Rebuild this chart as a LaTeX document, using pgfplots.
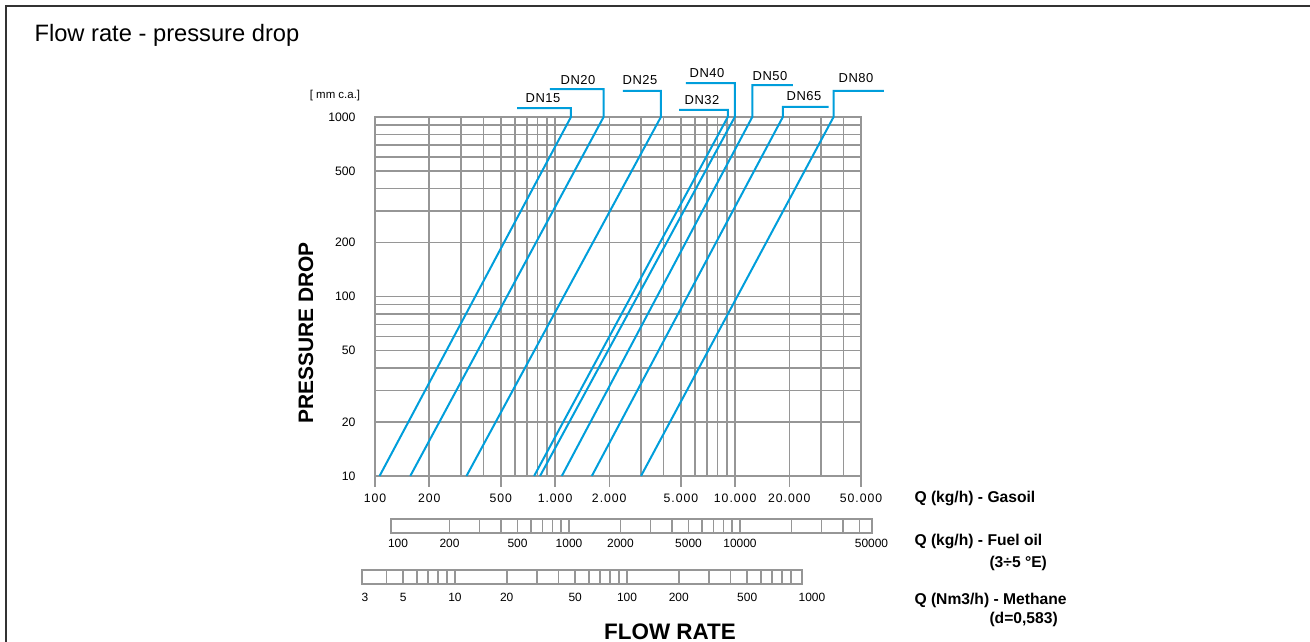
\documentclass[border=0pt]{standalone}
\usepackage{pgfplots}
\pgfplotsset{compat=1.18}
\usepackage{fontspec}
\setmainfont{Liberation Sans}
\definecolor{lineblue}{RGB}{0,158,219}
\definecolor{gridgray}{RGB}{150,150,150}
\begin{document}
\begin{tikzpicture}
\path[use as bounding box] (0,0) rectangle (1310bp,-642bp);
\draw[line width=1.5bp, black!80] (6bp,-642bp) -- (6bp,-6bp) -- (1310bp,-6bp);
\node[anchor=west, font=\fontsize{23.8}{28}\selectfont] at (31bp,-35bp) {Flow rate - pressure drop};

\begin{axis}[
  at={(375bp,-476bp)}, anchor=south west,
  width=486bp, height=359bp, scale only axis,
  xmode=log, ymode=log, xmin=100, xmax=50000, ymin=10, ymax=1000,
  xtick={100,200,500,1000,2000,5000,10000,20000,50000},
  xticklabels={100,200,500,1.000,2.000,5.000,10.000,20.000,50.000},
  ytick={10,20,50,100,200,500,1000},
  yticklabels={10,20,50,100,200,500,1000},
  minor xtick={300,400,600,700,800,900,3000,4000,6000,7000,8000,9000,30000,40000},
  minor ytick={30,40,60,70,80,90,300,400,600,700,800,900},
  grid=both,
  major grid style={gridgray, line width=1.5bp},
  minor grid style={gridgray, line width=1.5bp},
  axis line style={gridgray, line width=1.5bp},
  xtick style={gridgray, line width=1.5bp},
  ytick style={draw=none},
  xtick pos=lower, ytick pos=left,
  minor tick length=0pt,
  major tick length=11bp,
  tick align=outside,
  /pgf/number format/assume math mode=true,
  tick label style={font=\fontsize{12.3}{14}\selectfont},
  xticklabel style={yshift=-3bp, font=\fontsize{12.3}{14}\selectfont\addfontfeature{LetterSpace=8}},
  yticklabel style={xshift=-5bp},
  clip=false,
]
\addplot[lineblue, line width=2bp] coordinates {(106,10) (1225,1000) (1225,1122) (615,1122)};
\addplot[lineblue, line width=2bp] coordinates {(157,10) (1860,1000) (1860,1432) (937,1432)};
\addplot[lineblue, line width=2bp] coordinates {(322,10) (3870,1000) (3870,1396) (2376,1396)};
\addplot[lineblue, line width=2bp] coordinates {(765,10) (9100,1000) (9100,1094) (4880,1094)};
\addplot[lineblue, line width=2bp] coordinates {(825,10) (9950,1000) (9950,1546) (5325,1546)};
\addplot[lineblue, line width=2bp] coordinates {(1090,10) (12450,1000) (12450,1507) (20940,1507)};
\addplot[lineblue, line width=2bp] coordinates {(1600,10) (18400,1000) (18400,1137) (33000,1137)};
\addplot[lineblue, line width=2bp] coordinates {(3000,10) (35200,1000) (35200,1396) (67000,1396)};
\end{axis}

% Fuel oil scale
\begin{axis}[
  at={(391bp,-533bp)}, anchor=south west,
  width=481bp, height=14bp, scale only axis,
  xmode=log, xmin=91, xmax=59160, ymin=0, ymax=1,
  ytick=\empty,
  xtick={100,200,500,1000,2000,5000,10000},
  xticklabels={100,200,500,1000,2000,5000,10000},
  extra x ticks={50000}, extra x tick labels={50000},
  extra x tick style={xticklabel style={xshift=12bp}},
  minor xtick={200,300,400,500,600,700,800,900,1000,2000,3000,4000,5000,6000,7000,8000,9000,10000,20000,30000,40000,50000},
  xminorgrids=true, xmajorgrids=false,
  minor grid style={gridgray, line width=1.8bp},
  axis line style={gridgray, line width=1.8bp},
  major tick length=0pt, minor tick length=0pt,
  /pgf/number format/assume math mode=true,
  tick label style={font=\fontsize{12}{14}\selectfont},
  xticklabel style={yshift=-3bp},
]
\end{axis}

% Methane scale
\begin{axis}[
  at={(361.7bp,-584bp)}, anchor=south west,
  width=440bp, height=14bp, scale only axis,
  xmode=log, xmin=2.87, xmax=1037, ymin=0, ymax=1,
  ytick=\empty,
  xtick={3,5,10,20,50,100,200,500},
  xticklabels={3,5,10,20,50,100,200,500},
  extra x ticks={1000}, extra x tick labels={1000},
  extra x tick style={xticklabel style={xshift=13bp}},
  minor xtick={4,5,6,7,8,9,10,20,30,40,50,60,70,80,90,100,200,300,400,500,600,700,800,900},
  xminorgrids=true, xmajorgrids=false,
  minor grid style={gridgray, line width=1.8bp},
  axis line style={gridgray, line width=1.8bp},
  major tick length=0pt, minor tick length=0pt,
  /pgf/number format/assume math mode=true,
  tick label style={font=\fontsize{12}{14}\selectfont},
  xticklabel style={yshift=-6bp},
]
\end{axis}

% DN labels
\begin{scope}[every node/.style={font=\fontsize{13}{15}\selectfont\addfontfeature{LetterSpace=4}}]
\node at (543bp,-98bp) {DN15};
\node at (578bp,-80bp) {DN20};
\node at (640bp,-80bp) {DN25};
\node at (702bp,-100bp) {DN32};
\node at (707bp,-73bp) {DN40};
\node at (770bp,-76bp) {DN50};
\node at (804bp,-96bp) {DN65};
\node at (856bp,-78bp) {DN80};
\end{scope}

\node[font=\fontsize{11.5}{13}\selectfont] at (335bp,-96bp) {[ mm c.a.]};
\node[rotate=90, font=\bfseries\fontsize{21}{24}\selectfont] at (306bp,-333bp) {PRESSURE DROP};
\node[font=\bfseries\fontsize{22.5}{26}\selectfont] at (670bp,-632bp) {FLOW RATE};

\begin{scope}[every node/.style={anchor=west, font=\bfseries\fontsize{15.7}{18}\selectfont}]
\node at (911bp,-498bp) {Q (kg/h) - Gasoil};
\node at (911bp,-541bp) {Q (kg/h) - Fuel oil};
\node at (986bp,-563bp) {(3÷5 °E)};
\node at (911bp,-600bp) {Q (Nm3/h) - Methane};
\node at (986bp,-619bp) {(d=0,583)};
\end{scope}
\end{tikzpicture}
\end{document}
